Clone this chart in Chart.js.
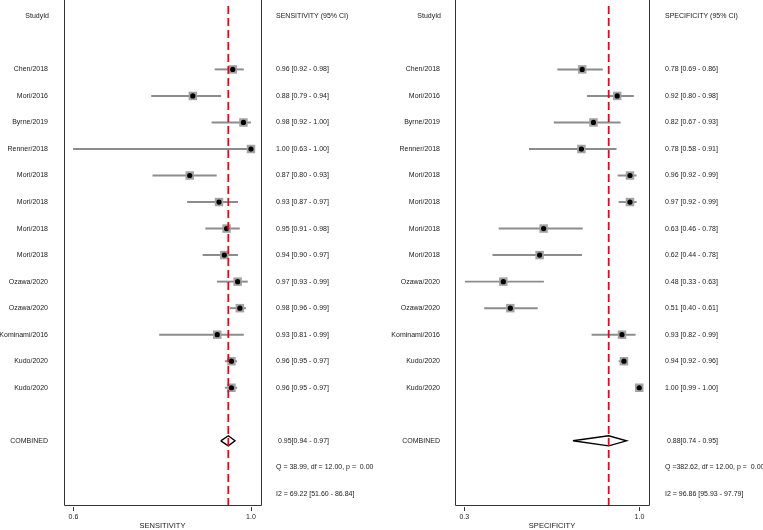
<!DOCTYPE html>
<html>
<head>
<meta charset="utf-8">
<script src="https://cdn.jsdelivr.net/npm/chart.js@4"></script>
<style>
    html, body { margin: 0; padding: 0; background: #fff; }
    #wrap { position: relative; width: 763px; height: 530px; }
    canvas { position: absolute; top: 0; }
</style>
</head>
<body>
<div id="wrap">
    <canvas id="sens" width="380" height="530" style="left:0"></canvas>
    <canvas id="spec" width="383" height="530" style="left:380px"></canvas>
</div>
<script>
// study labels (rows 2..14)
const studies = ['Chen/2018', 'Mori/2016', 'Byrne/2019', 'Renner/2018', 'Mori/2018', 'Mori/2018',
    'Mori/2018', 'Mori/2018', 'Ozawa/2020', 'Ozawa/2020', 'Kominami/2016', 'Kudo/2020', 'Kudo/2020'];

// sensitivity, as drawn
const sensPoint = [0.959, 0.869, 0.983, 1.000, 0.862, 0.928, 0.945, 0.940, 0.970, 0.975, 0.924, 0.956, 0.956];
const sensLow   = [0.919, 0.776, 0.912, 0.600, 0.779, 0.857, 0.898, 0.892, 0.924, 0.953, 0.794, 0.942, 0.942];
const sensHigh  = [0.983, 0.932, 0.999, 1.000, 0.922, 0.970, 0.974, 0.970, 0.992, 0.988, 0.983, 0.968, 0.968];
const sensText = ['0.96 [0.92 - 0.98]', '0.88 [0.79 - 0.94]', '0.98 [0.92 - 1.00]', '1.00 [0.63 - 1.00]',
    '0.87 [0.80 - 0.93]', '0.93 [0.87 - 0.97]', '0.95 [0.91 - 0.98]', '0.94 [0.90 - 0.97]',
    '0.97 [0.93 - 0.99]', '0.98 [0.96 - 0.99]', '0.93 [0.81 - 0.99]', '0.96 [0.95 - 0.97]', '0.96 [0.95 - 0.97]'];
const sensCombined = [0.932, 0.949, 0.964]; // low, point, high
const sensStats = ['0.95[0.94 - 0.97]', 'Q = 38.99, df = 12.00, p =  0.00', 'I2 = 69.22 [51.60 - 86.84]'];
const sensTicks = [0.6, 1.0];

// specificity, as drawn
const specPoint = [0.771, 0.911, 0.816, 0.768, 0.962, 0.962, 0.617, 0.601, 0.456, 0.484, 0.930, 0.938, 0.999];
const specLow   = [0.673, 0.792, 0.659, 0.560, 0.914, 0.918, 0.439, 0.414, 0.304, 0.381, 0.810, 0.918, 0.985];
const specHigh  = [0.852, 0.976, 0.923, 0.907, 0.987, 0.987, 0.772, 0.769, 0.617, 0.592, 0.983, 0.947, 1.000];
const specText = ['0.78 [0.69 - 0.86]', '0.92 [0.80 - 0.98]', '0.82 [0.67 - 0.93]', '0.78 [0.58 - 0.91]',
    '0.96 [0.92 - 0.99]', '0.97 [0.92 - 0.99]', '0.63 [0.46 - 0.78]', '0.62 [0.44 - 0.78]',
    '0.48 [0.33 - 0.63]', '0.51 [0.40 - 0.61]', '0.93 [0.82 - 0.99]', '0.94 [0.92 - 0.96]', '1.00 [0.99 - 1.00]'];
const specCombined = [0.734, 0.877, 0.948];
const specStats = ['0.88[0.74 - 0.95]', 'Q =382.62, df = 12.00, p =  0.00', 'I2 = 96.86 [95.93 - 97.79]'];
const specTicks = [0.3, 1.0];

const FONT = '7px "Liberation Sans", Arial, sans-serif';
const TEXT_COLOR = '#1a1a1a';
const FIRST_ROW = 2;      // row index of first study
const COMBINED_ROW = 16;
const Y_MIN = -0.39, Y_MAX = 18.42;

// draws the frame, ticks and the text columns
const forestText = {
    id: 'forestText',
    afterDraw(chart, args, o) {
        const ctx = chart.ctx;
        const a = chart.chartArea;
        const x = chart.scales.x, y = chart.scales.y;
        ctx.save();
        ctx.strokeStyle = '#333';
        ctx.lineWidth = 1;
        ctx.beginPath();
        ctx.moveTo(a.left + 0.5, 0);
        ctx.lineTo(a.left + 0.5, a.bottom + 0.5);
        ctx.lineTo(a.right + 0.5, a.bottom + 0.5);
        ctx.lineTo(a.right + 0.5, 0);
        o.ticks.forEach(t => {
            const px = Math.round(x.getPixelForValue(t)) + 0.5;
            ctx.moveTo(px, a.bottom + 2);
            ctx.lineTo(px, a.bottom + 6);
        });
        ctx.stroke();

        ctx.fillStyle = TEXT_COLOR;
        ctx.font = FONT;
        ctx.textBaseline = 'middle';
        ctx.textAlign = 'center';
        o.ticks.forEach(t => ctx.fillText(t.toFixed(1), x.getPixelForValue(t), a.bottom + 12));
        ctx.font = '7.5px "Liberation Sans", Arial, sans-serif';
        ctx.fillText(o.title, (a.left + a.right) / 2, a.bottom + 21);

        ctx.font = FONT;
        ctx.textAlign = 'right';
        ctx.fillText('StudyId', o.labelX + 1, y.getPixelForValue(0));
        studies.forEach((s, i) => ctx.fillText(s, o.labelX, y.getPixelForValue(FIRST_ROW + i)));
        ctx.fillText('COMBINED', o.labelX, y.getPixelForValue(COMBINED_ROW));

        ctx.textAlign = 'left';
        ctx.fillText(o.title + ' (95% CI)', o.textX, y.getPixelForValue(0));
        o.text.forEach((s, i) => ctx.fillText(s, o.textX, y.getPixelForValue(FIRST_ROW + i)));
        o.stats.forEach((s, i) => ctx.fillText(s, o.textX + (i === 0 ? 2 : 0), y.getPixelForValue(COMBINED_ROW + i)));
        ctx.restore();
    }
};

function makePanel(id, p) {
    const rowsY = studies.map((s, i) => FIRST_ROW + i);
    const c = p.combined;
    const dh = 0.19;
    return new Chart(document.getElementById(id), {
        type: 'bar',
        data: {
            datasets: [
                {
                    type: 'line',
                    data: [{ x: c[1], y: Y_MIN }, { x: c[1], y: Y_MAX }],
                    borderColor: '#e3061f',
                    borderWidth: 1.8,
                    borderDash: [8, 4],
                    pointRadius: 0,
                    order: 0
                },
                {
                    type: 'line',
                    data: [{ x: c[0], y: COMBINED_ROW }, { x: c[1], y: COMBINED_ROW - dh },
                           { x: c[2], y: COMBINED_ROW }, { x: c[1], y: COMBINED_ROW + dh },
                           { x: c[0], y: COMBINED_ROW }],
                    borderColor: '#000',
                    borderWidth: 1.4,
                    pointRadius: 0,
                    fill: false,
                    order: 1
                },
                {
                    type: 'scatter',
                    data: rowsY.map((r, i) => ({ x: p.point[i], y: r })),
                    pointStyle: 'circle',
                    pointRadius: 2.6,
                    backgroundColor: '#000',
                    borderWidth: 0,
                    order: 2
                },
                {
                    type: 'scatter',
                    data: rowsY.map((r, i) => ({ x: p.point[i], y: r })),
                    pointStyle: 'rect',
                    pointRadius: 6,
                    backgroundColor: '#a3a3a3',
                    borderWidth: 0,
                    order: 3
                },
                {
                    type: 'bar',
                    indexAxis: 'y',
                    data: rowsY.map((r, i) => ({ x: [p.low[i], p.high[i]], y: r })),
                    backgroundColor: '#8c8c8c',
                    barThickness: 1.3,
                    borderWidth: 0,
                    order: 4
                }
            ]
        },
        options: {
            responsive: false,
            animation: false,
            devicePixelRatio: 1,
            layout: { padding: p.padding },
            scales: {
                x: { type: 'linear', min: p.min, max: p.max, offset: false, display: false },
                y: { type: 'linear', min: Y_MIN, max: Y_MAX, reverse: true, offset: false, display: false }
            },
            plugins: {
                legend: { display: false },
                tooltip: { enabled: false },
                forestText: {
                    title: p.title, ticks: p.ticks, text: p.text, stats: p.stats,
                    labelX: p.labelX, textX: p.textX
                }
            }
        },
        plugins: [forestText]
    });
}

makePanel('sens', {
    title: 'SENSITIVITY', point: sensPoint, low: sensLow, high: sensHigh, combined: sensCombined,
    text: sensText, stats: sensStats, ticks: sensTicks,
    min: 0.5788, max: 1.0226, padding: { left: 64, right: 119, top: 0, bottom: 25 },
    labelX: 48, textX: 276
});
makePanel('spec', {
    title: 'SPECIFICITY', point: specPoint, low: specLow, high: specHigh, combined: specCombined,
    text: specText, stats: specStats, ticks: specTicks,
    min: 0.263, max: 1.038, padding: { left: 75, right: 114, top: 0, bottom: 25 },
    labelX: 60, textX: 285
});
</script>
</body>
</html>
